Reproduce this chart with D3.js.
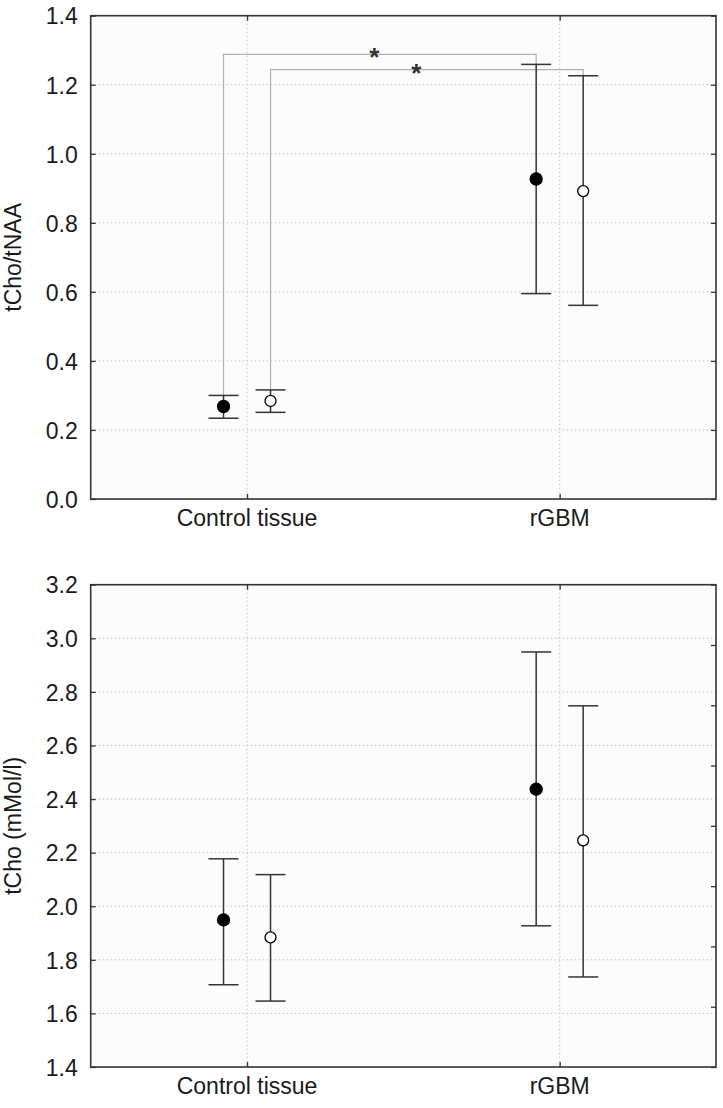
<!DOCTYPE html>
<html><head><meta charset="utf-8">
<script src="https://cdn.jsdelivr.net/npm/d3@7"></script>
<style>
html,body{margin:0;padding:0;background:#fff;}
svg{display:block;font-family:"Liberation Sans",Arial,sans-serif;}
</style></head>
<body>
<svg id="chart" width="723" height="1108"></svg>
<script>
// ---- data ----
const categories = ["Control tissue", "rGBM"];

// top panel: tCho/tNAA
const ratioTicks = [0.0, 0.2, 0.4, 0.6, 0.8, 1.0, 1.2, 1.4];
const ratioFilledMean = [0.268, 0.927];
const ratioFilledLow  = [0.234, 0.595];
const ratioFilledHigh = [0.300, 1.259];
const ratioOpenMean = [0.284, 0.892];
const ratioOpenLow  = [0.251, 0.561];
const ratioOpenHigh = [0.316, 1.226];
const bracketLevels = [1.288, 1.244];   // significance bracket heights
const bracketLabels = ["*", "*"];

// bottom panel: tCho (mMol/l)
const tchoTicks = [1.4, 1.6, 1.8, 2.0, 2.2, 2.4, 2.6, 2.8, 3.0, 3.2];
const tchoFilledMean = [1.949, 2.437];
const tchoFilledLow  = [1.707, 1.927];
const tchoFilledHigh = [2.177, 2.949];
const tchoOpenMean = [1.884, 2.246];
const tchoOpenLow  = [1.646, 1.736];
const tchoOpenHigh = [2.118, 2.748];
const rightTicksBottom = [0,1,2,3,4,5,6,7,8];

// ---- layout ----
const svg = d3.select("#chart");
const L = 90.7, R = 716;
const offset = 23.5, capHalf = 15, rad = 6;
const fs = 23;
const axisColor = "#333", gridColor = "#c4c4c4", bracketColor = "#b0b0b0";

function panel(cfg) {
  const g = svg.append("g");
  const x = d3.scalePoint().domain(categories).range([L, R]).padding(0.5);
  const y = d3.scaleLinear().domain(cfg.domain).range([cfg.bottom, cfg.top]);

  g.append("rect").attr("x", L).attr("y", cfg.top).attr("width", R - L)
    .attr("height", cfg.bottom - cfg.top).attr("fill", "#fcfcfc");

  // horizontal grid
  g.selectAll(".hg").data(cfg.ticks.filter(t => t > cfg.domain[0] + 1e-9 && t < cfg.domain[1] - 1e-9))
    .enter().append("line")
    .attr("x1", L).attr("x2", R).attr("y1", d => y(d)).attr("y2", d => y(d))
    .attr("stroke", gridColor).attr("stroke-width", 1).attr("stroke-dasharray", "1.5,2.5");
  // vertical grid
  g.selectAll(".vg").data(categories).enter().append("line")
    .attr("x1", d => x(d)).attr("x2", d => x(d)).attr("y1", cfg.top).attr("y2", cfg.bottom)
    .attr("stroke", gridColor).attr("stroke-width", 1).attr("stroke-dasharray", "1.5,2.5");

  // left axis
  const la = g.append("g").attr("transform", `translate(${L},0)`)
    .call(d3.axisRight(y).tickValues(cfg.ticks).tickFormat(d3.format(".1f")).tickSize(5));
  la.select(".domain").remove();
  la.selectAll("line").attr("stroke", axisColor).attr("stroke-width", 1.3);
  la.selectAll("text").attr("text-anchor", "end").attr("x", -13).attr("dy", "0.36em")
    .attr("font-size", fs).attr("fill", "#1a1a1a");

  // right axis
  const ry = cfg.rightScale ? cfg.rightScale : y;
  const ra = g.append("g").attr("transform", `translate(${R},0)`)
    .call(d3.axisLeft(ry).tickValues(cfg.rightTicks).tickSize(5).tickFormat(""));
  ra.select(".domain").remove();
  ra.selectAll("line").attr("stroke", axisColor).attr("stroke-width", 1.3);

  // bottom / top axis ticks
  const ba = g.append("g").attr("transform", `translate(0,${cfg.bottom})`)
    .call(d3.axisTop(x).tickSize(5).tickFormat(""));
  ba.select(".domain").remove();
  ba.selectAll("line").attr("stroke", axisColor).attr("stroke-width", 1.3);
  const ta = g.append("g").attr("transform", `translate(0,${cfg.top})`)
    .call(d3.axisBottom(x).tickSize(5).tickFormat(""));
  ta.select(".domain").remove();
  ta.selectAll("line").attr("stroke", axisColor).attr("stroke-width", 1.3);

  g.selectAll(".cl").data(categories).enter().append("text")
    .attr("x", d => x(d)).attr("y", cfg.bottom + 27).attr("text-anchor", "middle")
    .attr("font-size", fs).attr("fill", "#1a1a1a").text(d => d);

  // frame
  g.append("rect").attr("x", L).attr("y", cfg.top).attr("width", R - L)
    .attr("height", cfg.bottom - cfg.top).attr("fill", "none")
    .attr("stroke", axisColor).attr("stroke-width", 1.6);

  // y title
  g.append("text").attr("transform", `translate(21,${(cfg.top + cfg.bottom) / 2}) rotate(-90)`)
    .attr("text-anchor", "middle").attr("font-size", fs).attr("fill", "#1a1a1a").text(cfg.title);

  // significance brackets
  const bg = g.append("g");
  if (cfg.brackets) {
    cfg.brackets.forEach((b, i) => {
      const x0 = x(categories[0]) + b.dx, x1 = x(categories[1]) + b.dx;
      bg.append("path")
        .attr("d", `M${x0},${y(b.low0)}V${y(b.level)}H${x1}V${y(b.high1)}`)
        .attr("fill", "none").attr("stroke", bracketColor).attr("stroke-width", 1.2);
      bg.append("text").attr("x", (x0 + x1) / 2 + (i === 0 ? -5.5 : -10.5)).attr("y", y(b.level) + 12)
        .attr("text-anchor", "middle").attr("font-size", 26).attr("font-weight", "bold")
        .attr("fill", "#333").text(b.label);
    });
  }

  // series
  cfg.series.forEach(s => {
    const sg = g.append("g");
    categories.forEach((c, i) => {
      const cx = x(c) + s.dx;
      sg.append("line").attr("x1", cx).attr("x2", cx).attr("y1", y(s.low[i])).attr("y2", y(s.high[i]))
        .attr("stroke", axisColor).attr("stroke-width", 1.5);
      [s.low[i], s.high[i]].forEach(v => {
        sg.append("line").attr("x1", cx - capHalf).attr("x2", cx + capHalf).attr("y1", y(v)).attr("y2", y(v))
          .attr("stroke", axisColor).attr("stroke-width", 1.5);
      });
      sg.append("circle").attr("cx", cx).attr("cy", y(s.mean[i]))
        .attr("r", s.filled ? rad : rad - 0.5)
        .attr("fill", s.filled ? "#000" : "#fff").attr("stroke", "#000").attr("stroke-width", 1.3);
    });
  });
}

panel({
  top: 15.7, bottom: 499, domain: [0, 1.4], ticks: ratioTicks, rightTicks: ratioTicks,
  title: "tCho/tNAA",
  series: [
    {dx: -offset, filled: true, mean: ratioFilledMean, low: ratioFilledLow, high: ratioFilledHigh},
    {dx: offset, filled: false, mean: ratioOpenMean, low: ratioOpenLow, high: ratioOpenHigh}
  ],
  brackets: [
    {dx: -offset, level: bracketLevels[0], low0: ratioFilledHigh[0], high1: ratioFilledHigh[1], label: bracketLabels[0]},
    {dx: offset, level: bracketLevels[1], low0: ratioOpenHigh[0], high1: ratioOpenHigh[1], label: bracketLabels[1]}
  ]
});

panel({
  top: 584.7, bottom: 1067, domain: [1.4, 3.2], ticks: tchoTicks, rightTicks: rightTicksBottom,
  rightScale: d3.scaleLinear().domain([0, 8]).range([1067, 584.7]),
  title: "tCho (mMol/l)",
  series: [
    {dx: -offset, filled: true, mean: tchoFilledMean, low: tchoFilledLow, high: tchoFilledHigh},
    {dx: offset, filled: false, mean: tchoOpenMean, low: tchoOpenLow, high: tchoOpenHigh}
  ]
});
</script>
</body></html>
